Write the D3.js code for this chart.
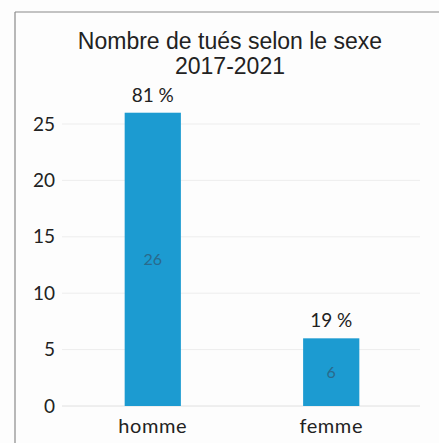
<!DOCTYPE html>
<html lang="fr">
<head>
<meta charset="utf-8">
<title>Nombre de tués selon le sexe</title>
<script src="https://cdn.jsdelivr.net/npm/d3@7"></script>
<style>
  body { margin: 0; background: #fdfdfd; }
  svg { display: block; }
</style>
</head>
<body>
<div id="chart"></div>
<script>
// data
const categories = ["homme", "femme"];
const values = [26, 6];
const shares = ["81 %", "19 %"];
const yTicks = [0, 5, 10, 15, 20, 25];
const titleLines = ["Nombre de tués selon le sexe", "2017-2021"];

const width = 439, height = 443;
const svg = d3.select("#chart").append("svg")
  .attr("width", width)
  .attr("height", height);

// frame of the scanned chart
svg.append("line").attr("x1", 15).attr("x2", width).attr("y1", 12).attr("y2", 12)
  .attr("stroke", "#8a8a8a").attr("stroke-width", 1.2);
svg.append("line").attr("x1", 15).attr("x2", 15).attr("y1", 12).attr("y2", height)
  .attr("stroke", "#8a8a8a").attr("stroke-width", 1.2);

const x = d3.scaleBand()
  .domain(categories)
  .range([64, 420])
  .paddingInner(0.685)
  .paddingOuter(0.34);

const y = d3.scaleLinear()
  .domain([0, 25])
  .range([406, 124]);

// gridlines
svg.append("g")
  .selectAll("line")
  .data(yTicks)
  .join("line")
  .attr("x1", 62).attr("x2", 420)
  .attr("y1", d => y(d)).attr("y2", d => y(d))
  .attr("stroke", d => d === 0 ? "#e0e0e0" : "#ededed")
  .attr("stroke-width", 1);

// y axis labels
const yAxis = svg.append("g")
  .attr("transform", "translate(55,0)")
  .call(d3.axisLeft(y).tickValues(yTicks).tickSize(0).tickPadding(0));
yAxis.select(".domain").remove();
yAxis.selectAll("text")
  .attr("font-family", "Lato, 'Open Sans', sans-serif")
  .attr("font-size", 19)
  .attr("fill", "#222");

// bars
svg.append("g")
  .selectAll("rect")
  .data(values)
  .join("rect")
  .attr("x", (d, i) => x(categories[i]))
  .attr("y", d => y(d))
  .attr("width", x.bandwidth())
  .attr("height", d => y(0) - y(d))
  .attr("fill", "#1c9bd1");

// values inside bars
svg.append("g")
  .selectAll("text")
  .data(values)
  .join("text")
  .attr("x", (d, i) => x(categories[i]) + x.bandwidth() / 2)
  .attr("y", d => (y(d) + y(0)) / 2 + 6)
  .attr("text-anchor", "middle")
  .attr("font-family", "Lato, sans-serif")
  .attr("font-size", 16)
  .attr("fill", "#2a6a8c")
  .text(d => d);

// percentages above bars
svg.append("g")
  .selectAll("text")
  .data(values)
  .join("text")
  .attr("x", (d, i) => x(categories[i]) + x.bandwidth() / 2)
  .attr("y", d => y(d) - 11)
  .attr("text-anchor", "middle")
  .attr("font-family", "Lato, sans-serif")
  .attr("font-size", 19)
  .attr("fill", "#222")
  .text((d, i) => shares[i]);

// category labels
const xAxis = svg.append("g")
  .attr("transform", "translate(0,413)")
  .call(d3.axisBottom(x).tickSize(0).tickPadding(0));
xAxis.select(".domain").remove();
xAxis.selectAll("text")
  .attr("dy", "1em")
  .attr("font-family", "Lato, sans-serif")
  .attr("font-size", 20)
  .attr("letter-spacing", 0.6)
  .attr("fill", "#222");

// title
svg.append("g")
  .selectAll("text")
  .data(titleLines)
  .join("text")
  .attr("x", 230)
  .attr("y", (d, i) => 49 + i * 25)
  .attr("text-anchor", "middle")
  .attr("font-family", "'Liberation Sans', Arial, sans-serif")
  .attr("font-size", 23)
  .attr("fill", "#222")
  .text(d => d);
</script>
</body>
</html>
